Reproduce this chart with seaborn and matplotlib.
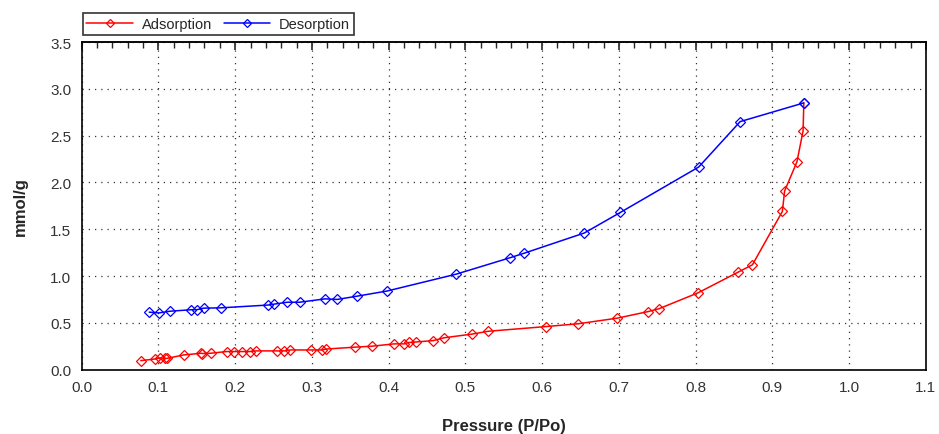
import matplotlib
matplotlib.use("Agg")
import matplotlib.pyplot as plt
import numpy as np
import pandas as pd
import seaborn as sns
from matplotlib.ticker import MultipleLocator

# isotherm values
ADS_P = [0.077, 0.096, 0.102, 0.108, 0.111, 0.133, 0.156, 0.157, 0.168, 0.189,
         0.199, 0.209, 0.219, 0.227, 0.254, 0.264, 0.272, 0.299, 0.313, 0.319,
         0.356, 0.378, 0.407, 0.420, 0.426, 0.435, 0.458, 0.472, 0.509, 0.530,
         0.605, 0.647, 0.698, 0.738, 0.752, 0.803, 0.855, 0.874, 0.913, 0.916,
         0.932, 0.940, 0.941]
ADS_Q = [0.096, 0.114, 0.125, 0.120, 0.120, 0.157, 0.175, 0.172, 0.175, 0.193,
         0.193, 0.193, 0.193, 0.200, 0.200, 0.200, 0.210, 0.210, 0.210, 0.220,
         0.240, 0.250, 0.275, 0.275, 0.290, 0.295, 0.310, 0.340, 0.380, 0.410,
         0.460, 0.490, 0.550, 0.620, 0.650, 0.820, 1.040, 1.120, 1.690, 1.910,
         2.220, 2.550, 2.850]

DES_P = [0.941, 0.858, 0.804, 0.702, 0.655, 0.577, 0.558, 0.488, 0.398, 0.359,
         0.333, 0.317, 0.284, 0.268, 0.251, 0.243, 0.181, 0.159, 0.150, 0.143,
         0.115, 0.101, 0.088]
DES_Q = [2.850, 2.650, 2.165, 1.680, 1.460, 1.245, 1.195, 1.020, 0.840, 0.785,
         0.750, 0.756, 0.720, 0.720, 0.700, 0.690, 0.660, 0.657, 0.640, 0.640,
         0.624, 0.606, 0.614]

df = pd.concat([
    pd.DataFrame({"p": ADS_P, "q": ADS_Q, "branch": "Adsorption"}),
    pd.DataFrame({"p": DES_P, "q": DES_Q, "branch": "Desorption"}),
], ignore_index=True)

sns.set_style("white")
plt.rcParams["font.family"] = ["Liberation Sans", "DejaVu Sans"]

fig = plt.figure(figsize=(9.39, 4.35), dpi=100)
ax = fig.add_axes([0.087, 0.148, 0.899, 0.753])

sns.lineplot(
    data=df, x="p", y="q", hue="branch", sort=False, estimator=None,
    palette={"Adsorption": "#ff0000", "Desorption": "#0000ff"},
    marker="D", markersize=5.5, markerfacecolor="none", markeredgewidth=0.9,
    linewidth=1.1, ax=ax,
)
for line in ax.get_lines():
    line.set_markeredgecolor(line.get_color())

ax.set_xlim(0, 1.1)
ax.set_ylim(0, 3.5)
ax.xaxis.set_major_locator(MultipleLocator(0.1))
ax.xaxis.set_minor_locator(MultipleLocator(0.02))
ax.yaxis.set_major_locator(MultipleLocator(0.5))
ax.yaxis.set_minor_locator(MultipleLocator(0.1))
ax.xaxis.set_major_formatter(matplotlib.ticker.FormatStrFormatter("%.1f"))
ax.yaxis.set_major_formatter(matplotlib.ticker.FormatStrFormatter("%.1f"))
ax.grid(True, which="major", color="#333333", linestyle=(0, (1, 4)), linewidth=0.9)

for s in ax.spines.values():
    s.set_visible(True)
    s.set_color("black")
    s.set_linewidth(1.2)
ax.tick_params(which="major", direction="inout", length=8, width=1.2, labelsize=11,
               labelcolor="#333333", right=False)
ax.tick_params(which="minor", direction="in", length=4, width=1, top=True, right=False)
ax.tick_params(axis="x", which="major", top=False)
ax.tick_params(axis="x", labeltop=False)
# top spine: inward major ticks only
sec = ax.secondary_xaxis("top")
sec.xaxis.set_major_locator(MultipleLocator(0.1))
sec.tick_params(direction="in", length=6, width=1.2, labeltop=False)
sec.spines["top"].set_linewidth(1.2)

ax.set_xlabel("Pressure (P/Po)", fontsize=12, fontweight="bold", labelpad=17)
ax.set_ylabel("mmol/g", fontsize=12, fontweight="bold", labelpad=16)

handles, labels = ax.get_legend_handles_labels()
leg = ax.legend(handles, labels, loc="lower left", bbox_to_anchor=(0.088, 0.918),
                bbox_transform=fig.transFigure, ncol=2, frameon=True, fancybox=False,
                fontsize=10.5, handlelength=3.2, handletextpad=0.6, columnspacing=0.8,
                borderpad=0.25, borderaxespad=0, markerscale=0.8)
leg.get_frame().set_edgecolor("black")
leg.get_frame().set_linewidth(1.2)

fig.savefig("out.png", dpi=100)
